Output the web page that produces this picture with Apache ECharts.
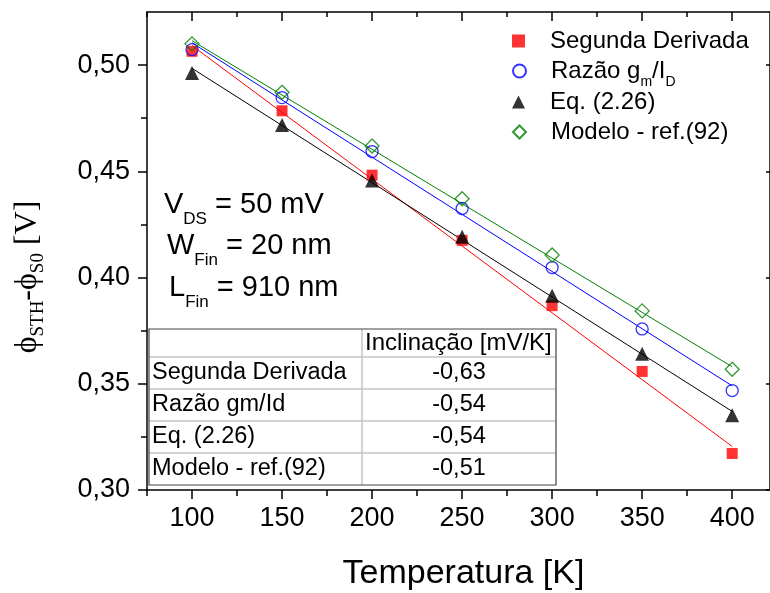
<!DOCTYPE html>
<html><head><meta charset="utf-8">
<script src="https://cdn.jsdelivr.net/npm/echarts@6/dist/echarts.min.js"></script>
<style>html,body{margin:0;padding:0;background:#fff}#c{width:770px;height:593px}</style>
</head><body><div id="c"></div>
<script>
// ---- data ----
const temps = [100, 150, 200, 250, 300, 350, 400];
const segundaDerivada = [0.5065, 0.4785, 0.4482, 0.4175, 0.3868, 0.3558, 0.3172];
const razaoGmId      = [0.5073, 0.4847, 0.4593, 0.4325, 0.4047, 0.3758, 0.3468];
const eq226          = [0.4963, 0.4718, 0.4457, 0.4192, 0.3914, 0.3641, 0.3352];
const modeloRef92    = [0.5100, 0.4872, 0.4619, 0.4371, 0.4106, 0.3843, 0.3568];
// linear fit lines (end points)
const fitX = [100, 400];
const segundaFit = [0.5092, 0.3205];
const razaoFit   = [0.5105, 0.3490];
const eqFit      = [0.4985, 0.3370];
const modeloFit  = [0.5115, 0.3580];
// ticks
const xMajorTicks = [100, 150, 200, 250, 300, 350, 400];
const xMinorTicks = [75, 125, 175, 225, 275, 325, 375];
const yMajorTicks = [0.30, 0.35, 0.40, 0.45, 0.50];
const yMinorTicks = [0.325, 0.375, 0.425, 0.475];
// names / texts
const seriesNames = ['Segunda Derivada', 'Razão gm/ID', 'Eq. (2.26)', 'Modelo - ref.(92)'];
const tableHeader = ['', 'Inclinação [mV/K]'];
const tableRowNames = ['Segunda Derivada', 'Razão gm/Id', 'Eq. (2.26)', 'Modelo - ref.(92)'];
const tableSlopes = ['-0,63', '-0,54', '-0,54', '-0,51'];
const annotations = [['V', 'DS', ' = 50 mV'], ['W', 'Fin', ' = 20 nm'], ['L', 'Fin', ' = 910 nm']];

const SANS = 'Liberation Sans, Arial, sans-serif';
const SERIF = 'Liberation Serif, Times New Roman, serif';

const chart = echarts.init(document.getElementById('c'), null, {renderer: 'canvas'});

function pairs(xs, ys) { return xs.map((x, i) => [x, ys[i]]); }

const colors = ['#ff0000', '#0000ff', '#000000', '#008000'];
const symbols = ['rect', 'circle', 'triangle', 'diamond'];
const sizes = [11, 12, 14, 14];
const values = [segundaDerivada, razaoGmId, eq226, modeloRef92];
const fits = [segundaFit, razaoFit, eqFit, modeloFit];

const series = [];
fits.forEach((f, i) => {
  series.push({
    name: 'fit' + i, type: 'line', data: pairs(fitX, f), showSymbol: false, symbol: 'none',
    lineStyle: {color: colors[i], width: 1}, silent: true, z: 1, animation: false
  });
});
values.forEach((v, i) => {
  const hollow = (i === 1 || i === 3);
  series.push({
    name: seriesNames[i], type: 'scatter', data: pairs(temps, v), symbol: symbols[i], symbolSize: sizes[i],
    itemStyle: hollow ? {color: 'rgba(255,255,255,0)', borderColor: colors[i], borderWidth: 1.3}
                      : {color: colors[i], borderWidth: 0},
    z: 3, animation: false
  });
});

const axisLineStyle = {color: '#000', width: 1.5};
const xCommon = {type: 'value', min: 75, max: 421, gridIndex: 0, splitLine: {show: false}};
const yCommon = {type: 'value', min: 0.30, max: 0.525, gridIndex: 0, splitLine: {show: false}};

// legends: one component per row for exact placement
const legendRowCenters = [42, 72, 103, 133];
const legends = seriesNames.map((n, i) => ({
  orient: 'vertical', left: 507, top: legendRowCenters[i] - 18, itemWidth: 13, itemHeight: 13,
  data: [n], selectedMode: false,
  formatter: function (name) {
    if (name === seriesNames[1]) return '{a|Razão g}{s|m}{a|/I}{s|D}';
    return '{a|' + name + '}';
  },
  textStyle: {
    color: '#000', fontSize: 24, fontFamily: SANS, padding: [0, 0, 0, 20],
    rich: {
      a: {color: '#000', fontSize: 24, fontFamily: SANS, lineHeight: 36},
      s: {color: '#000', fontSize: 14, fontFamily: SANS, lineHeight: 14, verticalAlign: 'bottom'}
    }
  }
}));

// graphics: annotation, y title, table
const graphics = [];
const annotPos = [[164, 189.5], [167, 230.5], [169, 272.5]];
annotations.forEach((a, i) => {
  graphics.push({
    type: 'text', x: annotPos[i][0], y: annotPos[i][1],
    style: {
      text: '{m|' + a[0] + '}{s|' + a[1] + '}{m|' + a[2] + '}',
      align: 'left', verticalAlign: 'top',
      rich: {
        m: {fontSize: 29, fontFamily: SANS, lineHeight: 30, fill: '#000'},
        s: {fontSize: 17, fontFamily: SANS, lineHeight: 17, padding: [30, 0, 0, 0], fill: '#000'}
      }
    }
  });
});
graphics.push({
  type: 'text', x: 28, y: 277, rotation: Math.PI / 2,
  style: {
    text: '{p|ϕ}{s|STH}{p|-ϕ}{s|S0}{p| [V]}',
    align: 'center', verticalAlign: 'middle',
    rich: {
      p: {fontSize: 32, fontFamily: SERIF, lineHeight: 32, fill: '#000'},
      s: {fontSize: 19, fontFamily: SERIF, lineHeight: 19, padding: [20, 0, 0, 0], fill: '#000'}
    }
  }
});
// table
const tL = 149, tT = 329, c1 = 362, tR = 556, hH = 28, rH = 32;
const tB = tT + hH + rH * tableRowNames.length;
const tbl = [];
tbl.push({type: 'rect', shape: {x: tL, y: tT, width: tR - tL, height: tB - tT}, style: {fill: '#fff', stroke: null}});
for (let r = 0; r < tableRowNames.length; r++) {
  const y = tT + hH + r * rH;
  tbl.push({type: 'line', shape: {x1: tL, y1: y, x2: tR, y2: y}, style: {stroke: '#c4c4c4', lineWidth: 1.5}});
}
tbl.push({type: 'line', shape: {x1: c1, y1: tT, x2: c1, y2: tB}, style: {stroke: '#c4c4c4', lineWidth: 1.5}});
tbl.push({type: 'rect', shape: {x: tL, y: tT, width: tR - tL, height: tB - tT}, style: {fill: null, stroke: '#444', lineWidth: 1.2}});
tbl.push({type: 'text', x: c1 + 3, y: tT + hH / 2, style: {text: tableHeader[1], font: '24px ' + SANS, fill: '#000', align: 'left', verticalAlign: 'middle'}});
tableRowNames.forEach((n, r) => {
  const cy = tT + hH + r * rH + rH / 2;
  tbl.push({type: 'text', x: tL + 3, y: cy, style: {text: n, font: '23.5px ' + SANS, fill: '#000', align: 'left', verticalAlign: 'middle'}});
  tbl.push({type: 'text', x: (c1 + tR) / 2, y: cy, style: {text: tableSlopes[r], font: '23.5px ' + SANS, fill: '#000', align: 'center', verticalAlign: 'middle'}});
});
graphics.push({type: 'group', children: tbl, z: 10});

const option = {
  backgroundColor: '#fff',
  animation: false,
  grid: {left: 147, right: 0, top: 12, bottom: 103, containLabel: false, outerBoundsMode: 'none'},
  legend: legends,
  xAxis: [
    Object.assign({}, xCommon, {
      position: 'bottom',
      axisLine: {show: true, onZero: false, lineStyle: axisLineStyle},
      axisTick: {show: true, inside: false, length: 9, customValues: xMajorTicks, lineStyle: {color: '#000', width: 1.5}},
      axisLabel: {show: true, customValues: xMajorTicks, margin: 15, color: '#000', fontSize: 27, fontFamily: SANS},
      name: 'Temperatura [K]', nameLocation: 'middle', nameGap: 67,
      nameTextStyle: {color: '#000', fontSize: 34, fontFamily: SANS, padding: [0, 0, 0, 10]}
    }),
    Object.assign({}, xCommon, {
      position: 'bottom',
      axisLine: {show: false, onZero: false},
      axisTick: {show: true, inside: false, length: 6, customValues: xMinorTicks, lineStyle: {color: '#000', width: 1.5}},
      axisLabel: {show: false}
    }),
    Object.assign({}, xCommon, {
      position: 'top',
      axisLine: {show: true, onZero: false, lineStyle: axisLineStyle},
      axisTick: {show: true, inside: true, length: 9, customValues: xMajorTicks, lineStyle: {color: '#000', width: 1.5}},
      axisLabel: {show: false}
    }),
    Object.assign({}, xCommon, {
      position: 'top',
      axisLine: {show: false, onZero: false},
      axisTick: {show: true, inside: true, length: 5, customValues: xMinorTicks, lineStyle: {color: '#000', width: 1.5}},
      axisLabel: {show: false}
    })
  ],
  yAxis: [
    Object.assign({}, yCommon, {
      position: 'left',
      axisLine: {show: true, onZero: false, lineStyle: axisLineStyle},
      axisTick: {show: true, inside: false, length: 9, customValues: yMajorTicks, lineStyle: {color: '#000', width: 1.5}},
      axisLabel: {show: true, customValues: yMajorTicks, margin: 17, color: '#000', fontSize: 27, fontFamily: SANS,
        formatter: v => v.toFixed(2).replace('.', ',')}
    }),
    Object.assign({}, yCommon, {
      position: 'left',
      axisLine: {show: false, onZero: false},
      axisTick: {show: true, inside: false, length: 6, customValues: yMinorTicks, lineStyle: {color: '#000', width: 1.5}},
      axisLabel: {show: false}
    }),
    Object.assign({}, yCommon, {
      position: 'right',
      axisLine: {show: true, onZero: false, lineStyle: axisLineStyle},
      axisTick: {show: true, inside: true, length: 4, customValues: yMajorTicks, lineStyle: {color: '#000', width: 1.5}},
      axisLabel: {show: false}
    })
  ],
  series: series,
  graphic: graphics
};
chart.setOption(option);
</script>
</body></html>
